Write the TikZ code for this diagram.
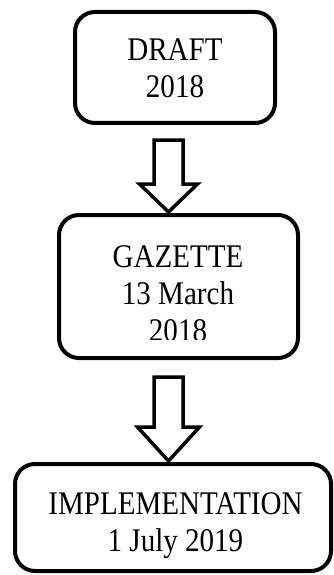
\documentclass[tikz,border=0pt]{standalone}
\usepackage{fontspec}
\setmainfont{Liberation Serif}[FakeStretch=0.88]
\usetikzlibrary{calc}
\begin{document}
\begin{tikzpicture}[x=1pt,y=-1pt,
  box/.style={draw,line width=4pt,rounded corners=20pt,inner sep=0pt},
  blockarrow/.style={draw,line width=3.5pt,line join=miter,fill=white},
  lbl/.style={anchor=base,inner sep=0pt,font=\fontsize{33}{37}\selectfont,align=center}]
\useasboundingbox (0,0) rectangle (333,575);
% boxes
\node[box,minimum width=200pt,minimum height=111pt] (draft) at (175,67.5) {};
\node[box,minimum width=239pt,minimum height=143pt] (gaz) at (178.5,286.5) {};
\node[box,minimum width=316pt,minimum height=107pt] (impl) at (173,517.5) {};
% texts (base anchor = baseline of last line)
\node[lbl] (t1) at (175,98) {DRAFT\\2018};
\begin{scope}
\clip (0,200) rectangle (333,339);
\node[lbl] (t2) at (178,341) {GAZETTE\\13 March\\2018};
\end{scope}
\node[lbl] (t3) at (175.5,551) {IMPLEMENTATION\\1 July 2019};
% block arrows
\coordinate (a1) at (168.5,140);
\draw[blockarrow] ($(a1)+(-14.5,0)$) -- ($(a1)+(14.5,0)$) -- ($(a1)+(14.5,44)$) -- ($(a1)+(29,44)$)
  -- (168.5,212) -- ($(a1)+(-29,44)$) -- ($(a1)+(-14.5,44)$) -- cycle;
\coordinate (a2) at (168.5,377);
\draw[blockarrow] ($(a2)+(-14.5,0)$) -- ($(a2)+(14.5,0)$) -- ($(a2)+(14.5,50)$) -- ($(a2)+(31,50)$)
  -- (168.5,461) -- ($(a2)+(-31,50)$) -- ($(a2)+(-14.5,50)$) -- cycle;
\end{tikzpicture}
\end{document}
